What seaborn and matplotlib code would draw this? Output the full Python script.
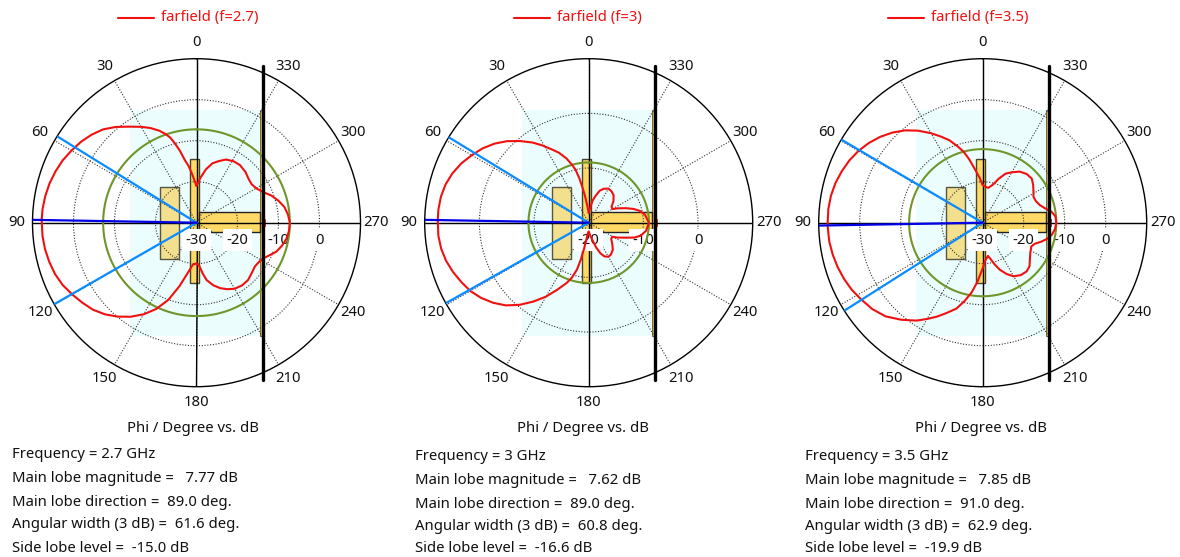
import numpy as np
import pandas as pd
import seaborn as sns
import matplotlib.pyplot as plt
from matplotlib.lines import Line2D
from matplotlib.patches import Rectangle

freqs = ["2.7", "3", "3.5"]
main_mag = [7.77, 7.62, 7.85]
main_dir = [89.0, 89.0, 91.0]
ang_width = [61.6, 60.8, 62.9]
side_lobe = [-15.0, -16.6, -19.9]
r_min = [-30, -20, -30]
theta_ticks = [0, 30, 60, 90, 120, 150, 180, 210, 240, 270, 300, 330]

phi_27 = [0, 3, 5, 8, 10.5, 13, 15.3, 17, 19, 22, 26, 30, 35, 40, 45, 50, 55, 60, 65, 70, 75, 80, 85, 89, 95, 100, 105,
          110, 115, 120, 125, 130, 135, 140, 145, 150, 155, 160, 165, 170, 175, 180, 184, 187, 190, 195, 200, 205, 210,
          216, 222, 228, 233, 238, 242, 246, 250, 255, 260, 265, 270, 275, 280, 285, 290, 295, 300, 305, 310, 316, 323,
          329, 335, 340, 345, 350, 355, 360]
db_27 = [-21, -19.5, -18.2, -16, -14.5, -12, -9.9, -8.4, -7.2, -5.8, -4.3, -3, -1.4, 0.5, 2.2, 3.4, 4.4, 5.2, 6.0, 6.6,
         7.1, 7.45, 7.7, 7.77, 7.7, 7.5, 7.15, 6.7, 6.0, 5.0, 4.0, 3.0, 1.6, -0.1, -2.0, -4.2, -6.8, -10, -14, -17.5,
         -19.7, -20.1, -19.3, -17.5, -15.8, -14.2, -13, -12.1, -11.4, -11.1, -11.2, -11.8, -12.2, -12, -11.5, -10.5,
         -9.3, -8.4, -7.7, -7.35, -7.23, -7.6, -8.2, -9.3, -10.6, -12.2, -13.2, -13.6, -13.4, -12.8, -12.4, -12.5, -13,
         -14, -15, -16.8, -19, -21]

phi_30 = [0, 3, 6, 8, 10, 12, 14, 16, 19, 23, 27, 31, 35, 40, 45, 50, 55, 60, 65, 70, 75, 80, 85, 89, 95, 100, 105, 110,
          115, 120, 125, 130, 135, 140, 145, 150, 155, 160, 163, 166, 168, 170, 172, 175, 180, 187, 193, 197, 201, 205,
          210, 215, 222, 228, 234, 239, 243, 248, 252, 256, 262, 270, 278, 283, 287, 291, 296, 300, 305, 311, 318, 324,
          330, 336, 341, 346, 350, 355, 360]
db_30 = [-18.2, -17.5, -16.3, -15, -13.5, -11.6, -10, -9, -7.6, -6.1, -4.9, -3.5, -2.1, -0.5, 1.1, 2.5, 3.7, 4.7, 5.7,
         6.5, 7.1, 7.45, 7.6, 7.62, 7.6, 7.4, 7.0, 6.4, 5.7, 5.0, 4.0, 2.8, 1.4, -0.4, -2.4, -4.4, -6.5, -8.3, -9.5,
         -11.2, -13.2, -15.3, -16.8, -18, -18.4, -17.6, -16.5, -15.2, -14, -13.2, -12.8, -12.9, -13.4, -14.2, -14.9, -15,
         -14, -12.7, -11.2, -10.2, -9.4, -8.98, -9.6, -10.4, -11.4, -12.6, -14, -15, -14.9, -14, -13.2, -12.9, -12.8,
         -13.2, -13.8, -15, -15.9, -17.4, -18.2]

phi_35 = [0, 4, 8, 12, 15, 18, 22, 26, 30, 35, 40, 45, 50, 55, 60, 65, 70, 75, 80, 85, 91, 97, 102, 107, 112, 117, 122,
          128, 134, 140, 146, 150, 154, 158, 163, 167, 171, 175, 180, 184, 189, 192, 196, 200, 205, 210, 216, 222, 227,
          232, 238, 244, 248, 252, 256, 260, 265, 270, 275, 279, 283, 287, 292, 297, 302, 307, 312, 318, 324, 330, 335,
          340, 345, 351, 356, 360]
db_35 = [-20.8, -19, -17, -14.2, -12.1, -10.5, -8.3, -6.6, -4.8, -2.6, -0.6, 1.1, 2.6, 3.9, 5.0, 5.9, 6.6, 7.2, 7.6,
         7.8, 7.85, 7.7, 7.4, 7.0, 6.5, 5.9, 5.1, 4.2, 2.9, 0.9, -1.2, -2.9, -4.5, -6.2, -8.1, -10.4, -12.8, -15.6, -18.9,
         -20.8, -21.8, -21, -19.4, -17.8, -16.2, -14.9, -14.2, -14, -14.4, -15.4, -16.3, -16.8, -16.3, -15, -13.8, -12.9,
         -12.3, -12.05, -12.2, -13, -14.4, -15.4, -16, -16.1, -15.4, -14.6, -13.9, -14, -14.6, -15.8, -16.8, -18.6,
         -20.4, -21.4, -21.2, -20.8]

phi_all = [phi_27, phi_30, phi_35]
db_all = [db_27, db_30, db_35]

sns.set_theme(style="white")
plt.rcParams["font.family"] = ["Noto Sans", "DejaVu Sans"]

W, H = 1180, 557
R = 164
PT = 0.72  # px to points at dpi 100
centers = [(196.5, 222.7), (588.7, 222.7), (982.7, 222.7)]
xlabel_x = [193, 582.5, 981]
stats_x = [12, 415, 805]
stats_y = [[454, 479, 503, 525, 548], [456, 480, 504, 527, 549], [456, 480, 504, 527, 549]]
legend_x = [118, 514, 888]
YEL = "#FFD966"
PALE = "#F3E08E"
FS = 10.7

fig = plt.figure(figsize=(W / 100, H / 100), dpi=100)


def box(ax, x0, y0, x1, y1, **kw):
    # offsets in px from the plot centre, y downwards
    ax.add_patch(Rectangle((x0 / (2 * R) + 0.5, 0.5 - y1 / (2 * R)), (x1 - x0) / (2 * R), (y1 - y0) / (2 * R),
                           transform=ax.transAxes, **kw))


for i, (cx, cy) in enumerate(centers):
    ax = fig.add_axes([(cx - R) / W, 1 - (cy + R) / H, 2 * R / W, 2 * R / H], polar=True)
    ax.set_theta_zero_location("N")
    ax.set_theta_direction(1)
    lo = r_min[i]

    df = pd.DataFrame({"phi": np.deg2rad(phi_all[i]), "db": db_all[i]})
    sns.lineplot(data=df, x="phi", y="db", sort=False, estimator=None, color="#F01010", lw=1.5, zorder=4, ax=ax,
                 legend=False)
    ax.set_xlabel("")
    ax.set_ylabel("")
    ax.set_ylim(lo, 10)
    ax.set_axisbelow(False)

    ax.set_thetagrids(theta_ticks, [""] * len(theta_ticks))
    ax.set_yticks(np.arange(lo + 10, 10, 10))
    ax.set_yticklabels([])
    ax.grid(True, color="#333333", ls=(0, (1, 1.5)), lw=0.8)
    ax.spines["polar"].set_color("black")
    ax.spines["polar"].set_linewidth(1.0)
    for a in [0, 90, 180, 270]:
        ax.plot(np.deg2rad([a, a]), [lo, 10], color="black", lw=1.0, zorder=3)

    # angle labels around the rim, pushed out sideways like the original
    for t in theta_ticks:
        s, c = np.sin(np.deg2rad(t)), np.cos(np.deg2rad(t))
        dx = -(176 * s + 4 * np.sign(round(s, 6)))
        ax.annotate(str(t), xy=(0.5, 0.5), xycoords="axes fraction", xytext=(dx * PT, 180 * c * PT),
                    textcoords="offset points", ha="center", va="center", fontsize=FS, color="#111111",
                    annotation_clip=False)

    # antenna drawing behind the pattern
    box(ax, -66.7, -112.7, 63.3, 113, color="#ECFDFD", zorder=1, lw=0)
    box(ax, 63.3, -112.7, 66, 113, fc="#E8BE55", ec="#555555", lw=0.6, zorder=1.5)
    box(ax, -37, -36, -17.7, 36.7, fc=PALE, ec="#555544", lw=1.0, zorder=1.5)
    box(ax, -7, -63.5, 2, 60.5, fc=YEL, ec="#444433", lw=1.0, zorder=1.5)
    box(ax, 2, -11, 63.3, 9.5, fc=YEL, ec="#222222", lw=1.0, zorder=1.6)
    box(ax, 66.5, -4, 69.5, 4, fc="#E03030", ec="none", zorder=1.6)
    ax.add_line(Line2D([66.2 / (2 * R) + 0.5] * 2, [0.5 + 157 / (2 * R), 0.5 - 157 / (2 * R)], color="black", lw=2.4,
                       transform=ax.transAxes, clip_on=False, zorder=5))

    # ring labels sit under the right spoke
    for v in np.arange(lo, 1, 10):
        ax.annotate(str(v), xy=(np.deg2rad(270), v), xytext=(0, -12.6), textcoords="offset points", ha="center",
                    va="center", fontsize=FS, color="#111111", zorder=3.5,
                    bbox=dict(fc="white", ec="none", pad=2.5))

    # side lobe ring and beam lines
    ring = np.deg2rad(np.arange(0, 361, 2))
    ax.plot(ring, np.full(ring.size, main_mag[i] + side_lobe[i]), color="#6F962A", lw=1.5, zorder=3.8)
    for a in [main_dir[i] - ang_width[i] / 2, main_dir[i] + ang_width[i] / 2]:
        ax.plot(np.deg2rad([a, a]), [lo, 10], color="#0A8CFF", lw=1.6, zorder=4.2)
    ax.plot(np.deg2rad([main_dir[i]] * 2), [lo, 10], color="#0000E6", lw=1.6, zorder=4.3)

    # legend, captions
    lx = legend_x[i]
    fig.add_artist(Line2D([lx / W, (lx + 36) / W], [1 - 18 / H] * 2, color="#F01010", lw=1.5))
    fig.text((lx + 43) / W, 1 - 17 / H, f"farfield (f={freqs[i]})", color="#F01010", fontsize=FS, va="center")
    fig.text(xlabel_x[i] / W, 1 - 428 / H, "Phi / Degree vs. dB", ha="center", va="center", fontsize=FS,
             color="#111111")
    rows = [f"Frequency = {freqs[i]} GHz",
            f"Main lobe magnitude =   {main_mag[i]:.2f} dB",
            f"Main lobe direction =  {main_dir[i]:.1f} deg.",
            f"Angular width (3 dB) =  {ang_width[i]:.1f} deg.",
            f"Side lobe level =  {side_lobe[i]:.1f} dB"]
    for row, y in zip(rows, stats_y[i]):
        fig.text(stats_x[i] / W, 1 - y / H, row, va="center", fontsize=FS, color="#111111")

fig.savefig("out.png", dpi=100)
plt.close(fig)
